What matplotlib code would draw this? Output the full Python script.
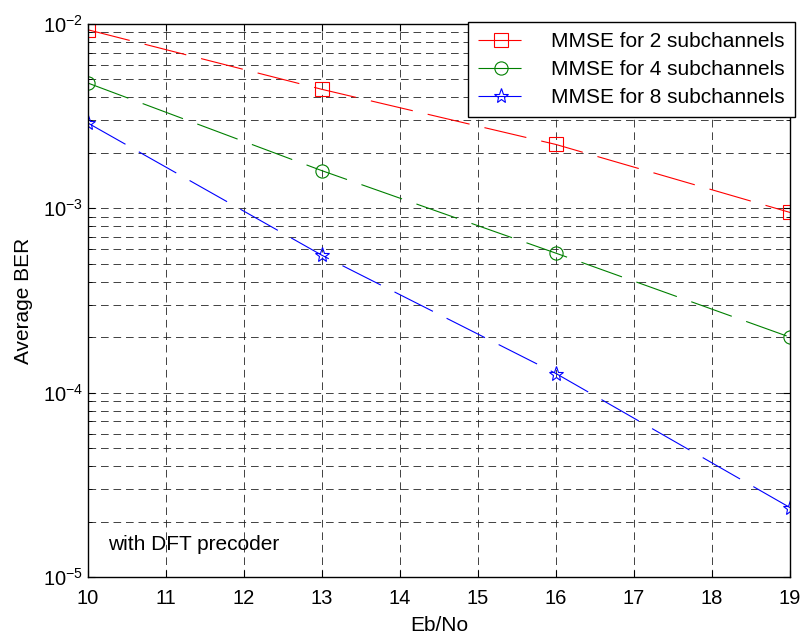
import numpy as np
import matplotlib
matplotlib.use('Agg')
import matplotlib.pyplot as plt
from matplotlib.ticker import LogLocator, FixedLocator, FuncFormatter, NullFormatter

plt.rcParams['font.family'] = ['Liberation Sans', 'DejaVu Sans']
plt.rcParams['mathtext.fontset'] = 'custom'
plt.rcParams['mathtext.rm'] = 'Liberation Sans'
plt.rcParams['lines.scale_dashes'] = False

ebno = [10, 13, 16, 19]
ber_2 = [9.3e-3, 4.42e-3, 2.22e-3, 9.5e-4]
ber_4 = [4.78e-3, 1.6e-3, 5.71e-4, 2.0e-4]
ber_8 = [2.9e-3, 5.56e-4, 1.27e-4, 2.38e-5]
labels = ['MMSE for 2 subchannels', 'MMSE for 4 subchannels', 'MMSE for 8 subchannels']

fig = plt.figure(figsize=(8.04, 6.38), dpi=100)
ax = fig.add_axes([88 / 804, 61 / 638, 702 / 804, 553 / 638])

dash = (31, 11)
ax.semilogy(ebno, ber_2, color='#ff0000', lw=0.8, dashes=dash, marker='s', ms=9.5,
            mfc='none', mew=0.8, label=labels[0])
ax.semilogy(ebno, ber_4, color='#008000', lw=0.8, dashes=dash, marker='o', ms=9.5,
            mfc='none', mew=0.8, label=labels[1])
ax.semilogy(ebno, ber_8, color='#0000ff', lw=0.8, dashes=dash, marker='*', ms=11,
            mfc='none', mew=0.8, label=labels[2])

ax.set_xlim(10, 19)
ax.set_ylim(1e-5, 1e-2)
ax.xaxis.set_major_locator(FixedLocator(range(10, 20)))
ax.yaxis.set_major_locator(LogLocator(base=10, numticks=10))
ax.yaxis.set_minor_locator(LogLocator(base=10, subs=np.arange(2, 10), numticks=20))
ax.yaxis.set_minor_formatter(NullFormatter())
ax.yaxis.set_major_formatter(FuncFormatter(
    lambda v, p: r'$\mathregular{10^{%d}}$' % int(round(np.log10(v)))))

ax.tick_params(which='both', direction='in', top=True, right=True, labelsize=14.5)
ax.tick_params(which='major', length=5, width=0.8)
ax.tick_params(which='minor', length=3, width=0.6)
ax.tick_params(axis='x', which='major', pad=8.5)
for s in ax.spines.values():
    s.set_linewidth(1.0)

ax.grid(True, which='major', color='#222222', lw=0.6, dashes=(5.5, 3.5))
ax.grid(True, which='minor', axis='y', color='#222222', lw=0.6, dashes=(5.5, 3.5))

ax.set_xlabel('Eb/No', fontsize=15, labelpad=6)
ax.set_ylabel('Average BER', fontsize=15, labelpad=7)

ax.text(10.26, 1.5e-5, 'with DFT precoder', fontsize=15, va='center', ha='left')

leg = ax.legend(loc='upper right', bbox_to_anchor=(0.989, 0.9655), bbox_transform=fig.transFigure,
                borderaxespad=0, fontsize=15, fancybox=False, framealpha=1, edgecolor='black',
                handlelength=2.2, handletextpad=1.3, labelspacing=0.42, borderpad=0.5)
leg.get_frame().set_linewidth(1.0)

fig.savefig('out.png', dpi=100)
